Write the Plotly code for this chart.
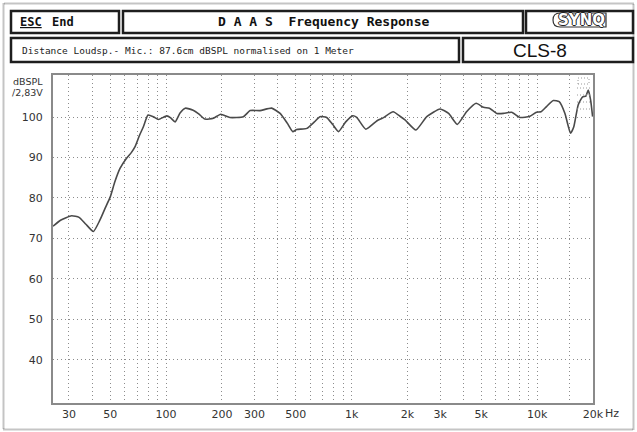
import math
import plotly.graph_objects as go

# ---- data ----
freq_hz = [24.6, 27, 31, 34, 37, 40.6, 44, 47, 50, 53, 56.5, 61, 65, 68, 72, 75.5,
           80, 86, 91, 101, 106, 112, 119, 127, 140, 150, 162, 180, 197, 221, 261,
           284, 321, 371, 412, 450, 482, 506, 574, 630, 676, 734, 790, 850, 930,
           1013, 1066, 1193, 1372, 1478, 1675, 1823, 1940, 2222, 2542, 2997, 3334,
           3712, 4164, 4690, 5143, 5533, 6060, 6584, 7290, 8080, 9140, 9917, 10500,
           11230, 12220, 13150, 14120, 15130, 15760, 16640, 17580, 18320, 18860,
           19420, 19900]
spl_db = [73.0, 74.5, 75.6, 75.2, 73.5, 71.7, 74.5, 77.5, 80.2, 84.0, 87.3, 89.7,
          91.2, 92.6, 95.5, 97.6, 100.5, 100.0, 99.4, 100.3, 99.8, 98.8, 101.0, 102.2,
          101.7, 100.8, 99.5, 99.7, 100.7, 99.9, 100.1, 101.6, 101.6, 102.2, 100.9,
          98.5, 96.4, 96.9, 97.2, 98.8, 100.1, 99.9, 98.2, 96.4, 98.8, 100.3, 99.9,
          97.0, 99.1, 99.8, 101.3, 100.2, 99.3, 96.8, 100.1, 102.0, 100.9, 98.2,
          101.3, 103.4, 102.4, 102.2, 100.9, 100.9, 101.2, 99.9, 100.2, 101.2,
          101.3, 102.6, 104.1, 103.8, 100.9, 96.0, 97.6, 103.0, 105.0, 105.2,
          106.7, 104.2, 100.1]

x_grid = [30, 40, 50, 60, 70, 80, 90, 100, 200, 300, 400, 500, 600, 700, 800, 900,
          1000, 2000, 3000, 4000, 5000, 6000, 7000, 8000, 9000, 10000, 15000, 20000]
x_labels = {30: "30", 50: "50", 100: "100", 200: "200", 300: "300", 500: "500",
            1000: "1k", 2000: "2k", 3000: "3k", 5000: "5k", 10000: "10k", 20000: "20k"}
y_ticks = [40, 50, 60, 70, 80, 90, 100]

title_text = "D A A S  Frequency Response"
info_text = "Distance Loudsp.- Mic.: 87.6cm dBSPL normalised on 1 Meter"
model_text = "CLS-8"

# ---- layout geometry (pixels) ----
W, H = 637, 432
L, R, T, B = 53, 593, 75, 403


def px(x):
    return (x - L) / (R - L)


def py(y):
    return (B - y) / (B - T)


def pt(x, y):
    return f"{px(x):.5f},{py(y):.5f}"


fig = go.Figure()
fig.add_trace(go.Scatter(x=freq_hz, y=spl_db, mode="lines",
                         line=dict(color="#4a4a4a", width=1.6, shape="spline",
                                   smoothing=0.5),
                         hoverinfo="skip", showlegend=False))

grid_style = dict(showgrid=True, gridcolor="#8c8c8c", gridwidth=1, griddash="1px,3px",
                  showline=True, linecolor="#8a8a8a", linewidth=2, mirror=True,
                  zeroline=False, ticks="", fixedrange=True)

fig.update_xaxes(type="log", range=[math.log10(24.6), math.log10(20000)],
                 tickmode="array", tickvals=x_grid,
                 ticktext=[x_labels.get(v, "") for v in x_grid],
                 tickangle=0,
                 tickfont=dict(family="DejaVu Sans", size=11, color="#333"),
                 **grid_style)
fig.update_yaxes(range=[29.3, 110.4], tickmode="array", tickvals=y_ticks,
                 ticktext=[str(v) for v in y_ticks], ticklabelstandoff=6,
                 tickfont=dict(family="DejaVu Sans", size=11, color="#333"),
                 **grid_style)

shapes = []
# outer dotted frame
shapes.append(dict(type="rect", xref="paper", yref="paper",
                   x0=px(3.5), x1=px(633.5), y0=py(429.5), y1=py(3.5),
                   line=dict(color="#8a8a8a", width=2, dash="1px,1px")))
# header boxes
for (x0, y0, x1, y1) in [(11, 11, 119, 33), (123, 11, 523, 33), (526, 11, 633, 33),
                         (11, 38, 459, 62), (463, 38, 633, 62)]:
    shapes.append(dict(type="rect", xref="paper", yref="paper",
                       x0=px(x0), x1=px(x1), y0=py(y1), y1=py(y0),
                       line=dict(color="#1e1e1e", width=2.5)))
# logo pill (rounded left end)
pill = (f"M {pt(560, 13)} L {pt(606, 13)} L {pt(606, 27)} L {pt(560, 27)} "
        f"Q {pt(553, 27)} {pt(553, 20)} Q {pt(553, 13)} {pt(560, 13)} Z")
shapes.append(dict(type="path", xref="paper", yref="paper", path=pill,
                   line=dict(color="#333", width=1.2)))
# small dotted channel marker in the top-right corner of the plot
for yy in (88, 95, 102, 109):
    shapes.append(dict(type="line", xref="paper", yref="paper",
                       x0=px(577), x1=px(590), y0=py(yy), y1=py(yy),
                       line=dict(color="#9a9a9a", width=1, dash="1px,2px")))
shapes.append(dict(type="rect", xref="paper", yref="paper",
                   x0=px(578), x1=px(589), y0=py(84), y1=py(78),
                   line=dict(color="#9a9a9a", width=1, dash="1px,2px")))

mono = "DejaVu Sans Mono"
ann = []
ann.append(dict(x=px(18), y=py(22), xanchor="left", yanchor="middle", text="ESC",
                font=dict(family=mono, size=12, color="#111", weight="bold",
                          lineposition="under")))
ann.append(dict(x=px(50), y=py(22), xanchor="left", yanchor="middle", text="End",
                font=dict(family=mono, size=12, color="#111", weight="bold")))
ann.append(dict(x=px(323), y=py(22), xanchor="center", yanchor="middle", text=title_text,
                font=dict(family=mono, size=13, color="#111", weight="bold")))
ann.append(dict(x=px(581), y=py(20), xanchor="center", yanchor="middle", text="SYNQ",
                font=dict(family="DejaVu Sans", size=15, color="white", weight="bold",
                          shadow="1px 0 0 #222, -1px 0 0 #222, 0 1px 0 #222, 0 -1px 0 #222")))
ann.append(dict(x=px(20), y=py(50), xanchor="left", yanchor="middle", text=info_text,
                font=dict(family=mono, size=9.5, color="#222")))
ann.append(dict(x=px(540), y=py(50), xanchor="center", yanchor="middle", text=model_text,
                font=dict(family="Liberation Sans", size=19, color="#111")))
ann.append(dict(x=px(45), y=py(81), xanchor="right", yanchor="middle", text="dBSPL",
                font=dict(family="DejaVu Sans", size=9.5, color="#333")))
ann.append(dict(x=px(45), y=py(92), xanchor="right", yanchor="middle", text="/2,83V",
                font=dict(family="DejaVu Sans", size=9.5, color="#333")))
ann.append(dict(x=px(603), y=py(413), xanchor="left", yanchor="middle", text="Hz",
                font=dict(family="DejaVu Sans", size=11, color="#333")))
for a in ann:
    a.update(xref="paper", yref="paper", showarrow=False)

fig.update_layout(width=W, height=H, margin=dict(l=L, r=W - R, t=T, b=H - B),
                  paper_bgcolor="white", plot_bgcolor="white",
                  shapes=shapes, annotations=ann, showlegend=False)

fig.write_html("out.html", config={"displayModeBar": False},
               post_script="document.body.style.margin='0';"
                           "document.body.style.overflow='hidden';")
